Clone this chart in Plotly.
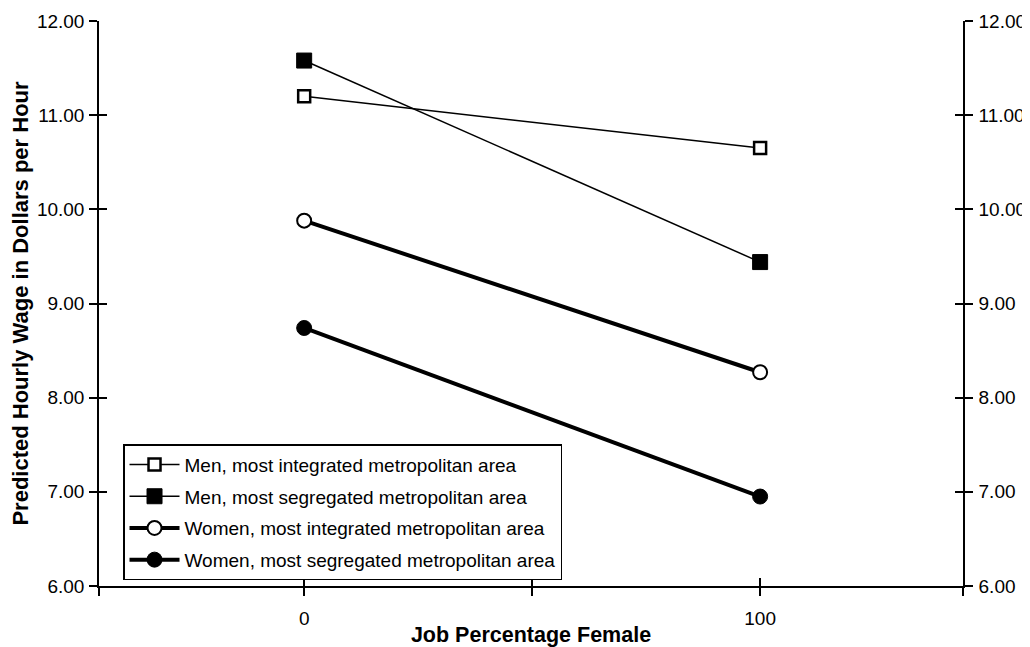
import plotly.graph_objects as go

# Data
x_pct = [0, 100]
men_integrated = [11.20, 10.65]
men_segregated = [11.58, 9.44]
women_integrated = [9.88, 8.27]
women_segregated = [8.74, 6.95]

names = [
    "Men, most integrated metropolitan area",
    "Men, most segregated metropolitan area",
    "Women, most integrated metropolitan area",
    "Women, most segregated metropolitan area",
]

FONT = "Liberation Sans, Arial, sans-serif"

fig = go.Figure()

fig.add_trace(go.Scatter(
    x=x_pct, y=men_integrated, name=names[0], mode="lines+markers",
    line=dict(color="black", width=1.5),
    marker=dict(symbol="square", size=12, color="white", line=dict(color="black", width=2.5)),
    legendgroup="g1",
))
fig.add_trace(go.Scatter(
    x=x_pct, y=men_segregated, name=names[1], mode="lines+markers",
    line=dict(color="black", width=1.5),
    marker=dict(symbol="square", size=15, color="black", line=dict(color="black", width=1)),
    legendgroup="g2",
))
fig.add_trace(go.Scatter(
    x=x_pct, y=women_integrated, name=names[2], mode="lines+markers",
    line=dict(color="black", width=4),
    marker=dict(symbol="circle", size=14, color="white", line=dict(color="black", width=2)),
    legendgroup="g3",
))
fig.add_trace(go.Scatter(
    x=x_pct, y=women_segregated, name=names[3], mode="lines+markers",
    line=dict(color="black", width=4),
    marker=dict(symbol="circle", size=15, color="black", line=dict(color="black", width=1)),
    legendgroup="g4",
))

xr = [-45, 144.5]
xt = [-45, 0, 50, 100, 144.5]
xtt = ["", "0", "", "100", ""]
yr = [6, 12]
yt = [6, 7, 8, 9, 10, 11, 12]

common_line = dict(showline=True, linecolor="black", linewidth=1.5, showgrid=False,
                   zeroline=False, tickcolor="black", tickwidth=1.5, automargin=False)

# page body has an 8px default margin, so the figure is sized to fit the window
fig.update_layout(
    width=1022, height=639,
    margin=dict(l=91, r=67, t=13, b=61),
    paper_bgcolor="white", plot_bgcolor="white",
    font=dict(family=FONT, color="black", size=19),
    showlegend=True,
    legend=dict(
        x=0.0278, y=0.251, xanchor="left", yanchor="top",
        bgcolor="white", bordercolor="black", borderwidth=1.5,
        font=dict(family=FONT, size=19, color="black"),
        tracegroupgap=4, itemwidth=50,
    ),
    xaxis=dict(range=xr, tickmode="array", tickvals=xt, ticktext=xtt,
               ticks="outside", ticklen=8, ticklabelstandoff=6,
               title=dict(text="<b>Job Percentage Female</b>", font=dict(size=21.5), standoff=2),
               **common_line),
    xaxis2=dict(range=xr, overlaying="x", anchor="y", side="bottom",
                tickmode="array", tickvals=xt, showticklabels=False,
                ticks="inside", ticklen=8, **common_line),
    yaxis=dict(range=yr, tickmode="array", tickvals=yt,
               tickformat=".2f", ticks="outside", ticklen=8, ticklabelstandoff=1,
               title=dict(text="<b>Predicted Hourly Wage in Dollars per Hour</b>",
                          font=dict(size=22), standoff=12),
               **common_line),
    yaxis2=dict(range=yr, overlaying="y", anchor="x", side="left",
                tickmode="array", tickvals=yt,
                showticklabels=False, ticks="inside", ticklen=8, **common_line),
    yaxis3=dict(range=yr, overlaying="y", anchor="x", side="right",
                tickmode="array", tickvals=yt,
                tickformat=".2f", ticks="outside", ticklen=8, ticklabelstandoff=2,
                **common_line),
    yaxis4=dict(range=yr, overlaying="y", anchor="x", side="right",
                tickmode="array", tickvals=yt,
                showticklabels=False, ticks="inside", ticklen=8, **common_line),
)

# invisible helper traces to activate the overlay axes
for xa, ya in [("x2", "y"), ("x", "y2"), ("x", "y3"), ("x", "y4")]:
    fig.add_trace(go.Scatter(x=[None], y=[None], xaxis=xa, yaxis=ya,
                             showlegend=False, hoverinfo="skip"))

fig.write_html("out.html")
